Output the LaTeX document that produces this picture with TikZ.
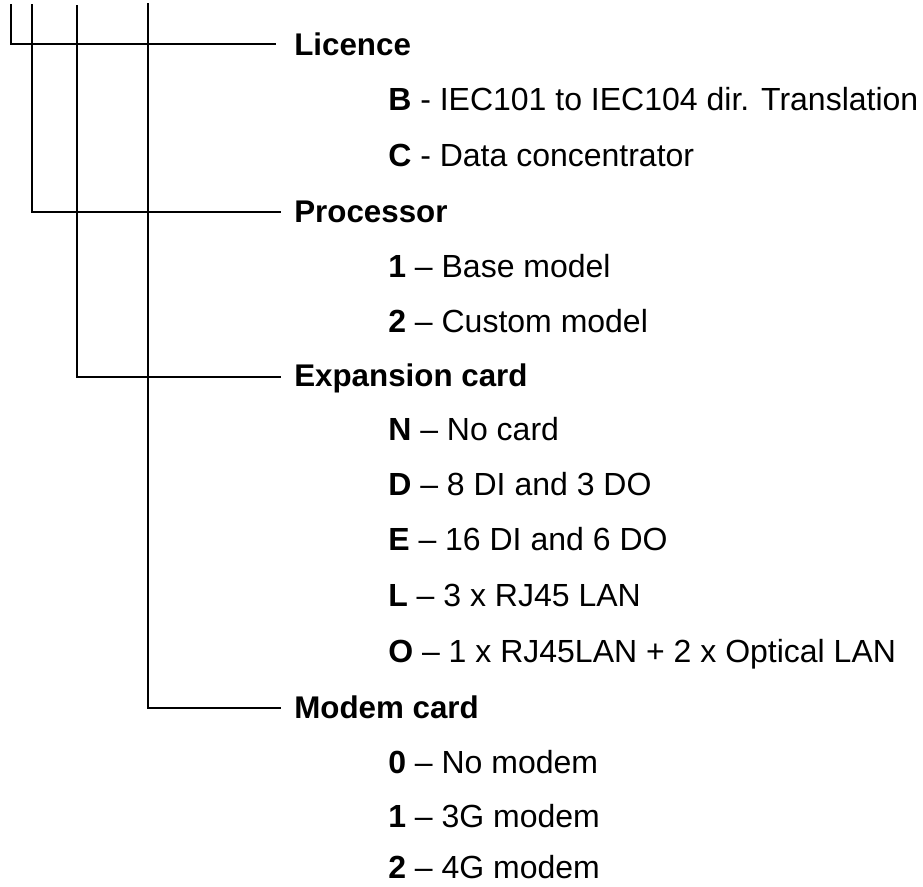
\documentclass[tikz,border=0pt]{standalone}
\usepackage{fontspec}
\setmainfont{Liberation Sans}
\begin{document}
\begin{tikzpicture}[x=0.75pt,y=-0.75pt,
  wire/.style={line width=1.5pt,black},
  heading/.style={anchor=base west,inner sep=0pt,font=\fontsize{23.5}{28}\selectfont\bfseries},
  option/.style={anchor=base west,inner sep=0pt,font=\fontsize{24}{28}\selectfont}]
\useasboundingbox (0,0) rectangle (923,886);

% headings
\node[heading] (lic) at (294,55) {Licence};
\node[heading] (proc) at (294,222) {Processor};
\node[heading] (exp) at (294,386) {Expansion card};
\node[heading] (mod) at (294,718) {Modem card};

% options
\node[option] (b) at (388,110) {\textbf{B} - IEC101 to IEC104 dir. Translation};
\node[option] (c) at (388,166) {\textbf{C} - Data concentrator};
\node[option] (p1) at (388,277) {\textbf{1} – Base model};
\node[option] (p2) at (388,332) {\textbf{2} – Custom model};
\node[option] (n) at (388,440) {\textbf{N} – No card};
\node[option] (d) at (388,495) {\textbf{D} – 8 DI and 3 DO};
\node[option] (e) at (388,550) {\textbf{E} – 16 DI and 6 DO};
\node[option] (l) at (388,606) {\textbf{L} – 3 x RJ45 LAN};
\node[option] (o) at (388,662) {\textbf{O} – 1 x RJ45LAN + 2 x Optical LAN};
\node[option] (m0) at (388,773) {\textbf{0} – No modem};
\node[option] (m1) at (388,827) {\textbf{1} – 3G modem};
\node[option] (m2) at (388,878) {\textbf{2} – 4G modem};

% connector ends
\coordinate (t1) at (11,4);
\coordinate (t2) at (32,4);
\coordinate (t3) at (77,5);
\coordinate (t4) at (148,3);
\coordinate (e1) at (276,44);
\coordinate (e2) at (281,212);
\coordinate (e3) at (281,377);
\coordinate (e4) at (281,708);

\draw[wire] (t1) |- (e1);
\draw[wire] (t2) |- (e2);
\draw[wire] (t3) |- (e3);
\draw[wire] (t4) |- (e4);
\end{tikzpicture}
\end{document}
